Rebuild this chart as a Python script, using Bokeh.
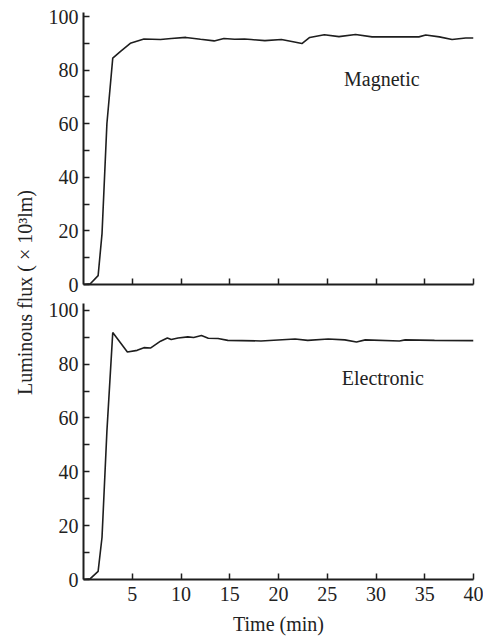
import math
from bokeh.plotting import figure
from bokeh.layouts import row, column
from bokeh.models import Label, FixedTicker
from bokeh.embed import file_html
from bokeh.resources import INLINE

# ---- data ----
time_mag = [0, 0.7, 1.5, 1.9, 2.4, 3.0, 3.8, 4.8, 6.2, 7.9, 9.0, 10.5, 12.0, 13.4, 14.4,
            15.5, 16.5, 17.2, 18.6, 20.3, 21.5, 22.4, 23.2, 24.7, 26.2, 27.9, 29.6, 32.0,
            34.4, 35.1, 36.5, 37.8, 39.2, 40]
flux_mag = [0, 0.3, 3.3, 19, 60, 84.5, 87, 90, 91.6, 91.4, 91.8, 92.2, 91.5, 90.9, 91.8,
            91.5, 91.6, 91.4, 91.0, 91.4, 90.6, 89.9, 92.2, 93.2, 92.5, 93.3, 92.4, 92.4,
            92.4, 93.1, 92.4, 91.4, 92.0, 92.0]

time_elec = [0, 0.7, 1.5, 1.9, 2.4, 3.0, 4.5, 5.5, 6.2, 6.9, 7.9, 8.6, 9.0, 9.7, 10.7,
             11.3, 12.1, 12.8, 13.8, 14.8, 18.2, 21.7, 23.0, 25.1, 26.8, 28.0, 28.9, 32.4,
             33.0, 36.0, 40]
flux_elec = [0, 0.3, 3.0, 15.7, 55, 91.7, 84.5, 85.1, 86.1, 86.0, 88.5, 89.7, 89.1, 89.7,
             90.1, 89.9, 90.6, 89.6, 89.5, 88.8, 88.6, 89.3, 88.8, 89.3, 89.0, 88.2, 89.0,
             88.6, 89.0, 88.8, 88.7]

x_ticks = [5, 10, 15, 20, 25, 30, 35, 40]
y_ticks = [0, 20, 40, 60, 80, 100]
y_minor = [10, 30, 50, 70, 90]

FONT = "Liberation Serif"
INK = "#1e1e1e"


def style(p, show_xlabels):
    p.xgrid.visible = False
    p.ygrid.visible = False
    p.outline_line_color = None
    for ax in p.axis:
        ax.axis_line_width = 2
        ax.axis_line_color = INK
        ax.major_tick_in = 6
        ax.major_tick_out = 0
        ax.minor_tick_in = 6
        ax.minor_tick_out = 0
        ax.major_tick_line_width = 1.5
        ax.minor_tick_line_width = 1.5
        ax.major_tick_line_color = INK
        ax.minor_tick_line_color = INK
        ax.major_label_text_font = FONT
        ax.major_label_text_font_size = "20px"
        ax.major_label_text_color = "#222222"
        ax.major_label_standoff = 5
    p.yaxis.ticker = FixedTicker(ticks=y_ticks, minor_ticks=y_minor)
    p.xaxis.ticker = FixedTicker(ticks=x_ticks, minor_ticks=[])
    if not show_xlabels:
        p.xaxis.major_label_overrides = {t: "" for t in x_ticks}
        p.xaxis.major_label_standoff = 0


# label column
lab = figure(width=42, height=641, x_range=(0, 42), y_range=(0, 641),
             x_axis_location=None, y_axis_location=None, min_border=0,
             toolbar_location=None, output_backend="svg")
lab.outline_line_color = None
lab.xgrid.visible = False
lab.ygrid.visible = False
lab.add_layout(Label(x=24, y=349, text="Luminous flux ( \u00d7 10\u00b3lm)", angle=math.pi / 2,
                     text_align="center", text_baseline="middle", text_font=FONT,
                     text_font_size="20px", text_color="#222222"))

# top panel
top = figure(width=441, height=296, x_range=(0, 40), y_range=(0, 101.5),
             min_border_left=41, min_border_right=10, min_border_top=12, min_border_bottom=12,
             toolbar_location=None, output_backend="svg")
style(top, False)
top.line(time_mag, flux_mag, line_color=INK, line_width=1.6)
top.add_layout(Label(x=30.6, y=76.8, text="Magnetic", text_align="center", text_baseline="middle",
                     text_font=FONT, text_font_size="20px", text_color="#222222"))

# bottom panel
bot = figure(width=441, height=345, x_range=(0, 40), y_range=(0, 102.5),
             min_border_left=41, min_border_right=10, min_border_top=7, min_border_bottom=62,
             toolbar_location=None, output_backend="svg")
style(bot, True)
bot.xaxis.major_label_standoff = 7
bot.xaxis.axis_label = "Time (min)"
bot.xaxis.axis_label_text_font = FONT
bot.xaxis.axis_label_text_font_size = "20px"
bot.xaxis.axis_label_text_font_style = "normal"
bot.xaxis.axis_label_text_color = "#222222"
bot.xaxis.axis_label_standoff = 9
bot.line(time_elec, flux_elec, line_color=INK, line_width=1.6)
bot.add_layout(Label(x=30.7, y=74.7, text="Electronic", text_align="center", text_baseline="middle",
                     text_font=FONT, text_font_size="20px", text_color="#222222"))

layout = row(lab, column(top, bot))

open("out.html", "w").write(file_html(layout, INLINE))
